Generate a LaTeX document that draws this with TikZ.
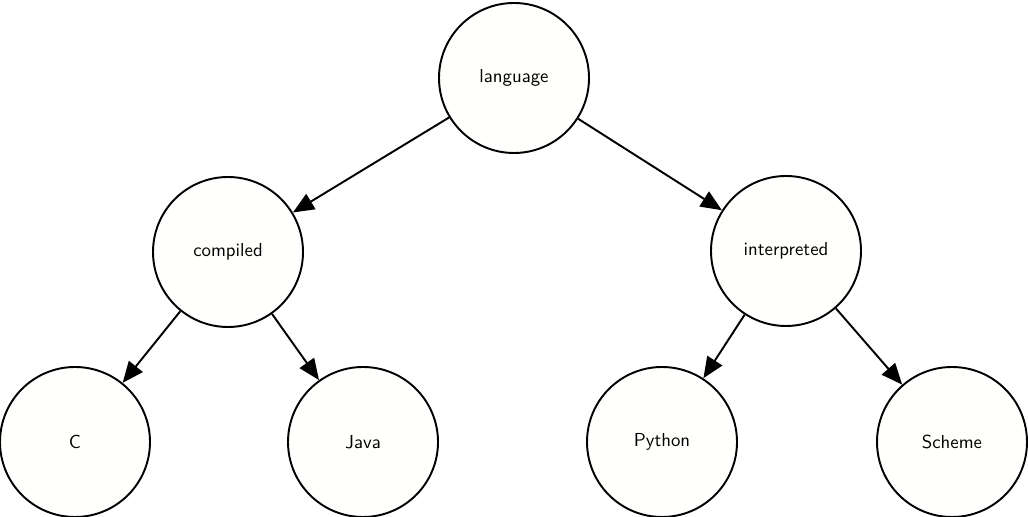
\documentclass[tikz,border=0pt]{standalone}
\usetikzlibrary{arrows.meta}
\definecolor{ballfill}{RGB}{255,255,253}
\begin{document}
\begin{tikzpicture}[
        ball/.style={draw,fill=ballfill,line width=1.1pt,circle,minimum size=3cm,inner sep=0pt,
            font=\sffamily\fontsize{10.7pt}{13pt}\selectfont},
        branch/.style={line width=1.1pt,-{Triangle[length=12pt,width=10pt]}}]
        \useasboundingbox (0,0) rectangle (20.56,10.34);
        %% Balls
        \node[ball] (lang) at (10.28,8.78) {language};
        \node[ball] (comp) at (4.56,5.30) {compiled};
        \node[ball] (interp) at (15.72,5.32) {interpreted};
        \node[ball] (c) at (1.50,1.50) {C};
        \node[ball] (java) at (7.26,1.50) {Java};
        \node[ball] (python) at (13.24,1.50) {Python};
        \node[ball] (scheme) at (19.04,1.50) {Scheme};
        %% Branches
        \draw[branch] (lang) -- (comp);
        \draw[branch] (lang) -- (interp);
        \draw[branch] (comp) -- (c);
        \draw[branch] (comp) -- (java);
        \draw[branch] (interp) -- (python);
        \draw[branch] (interp) -- (scheme);
    \end{tikzpicture}
\end{document}
